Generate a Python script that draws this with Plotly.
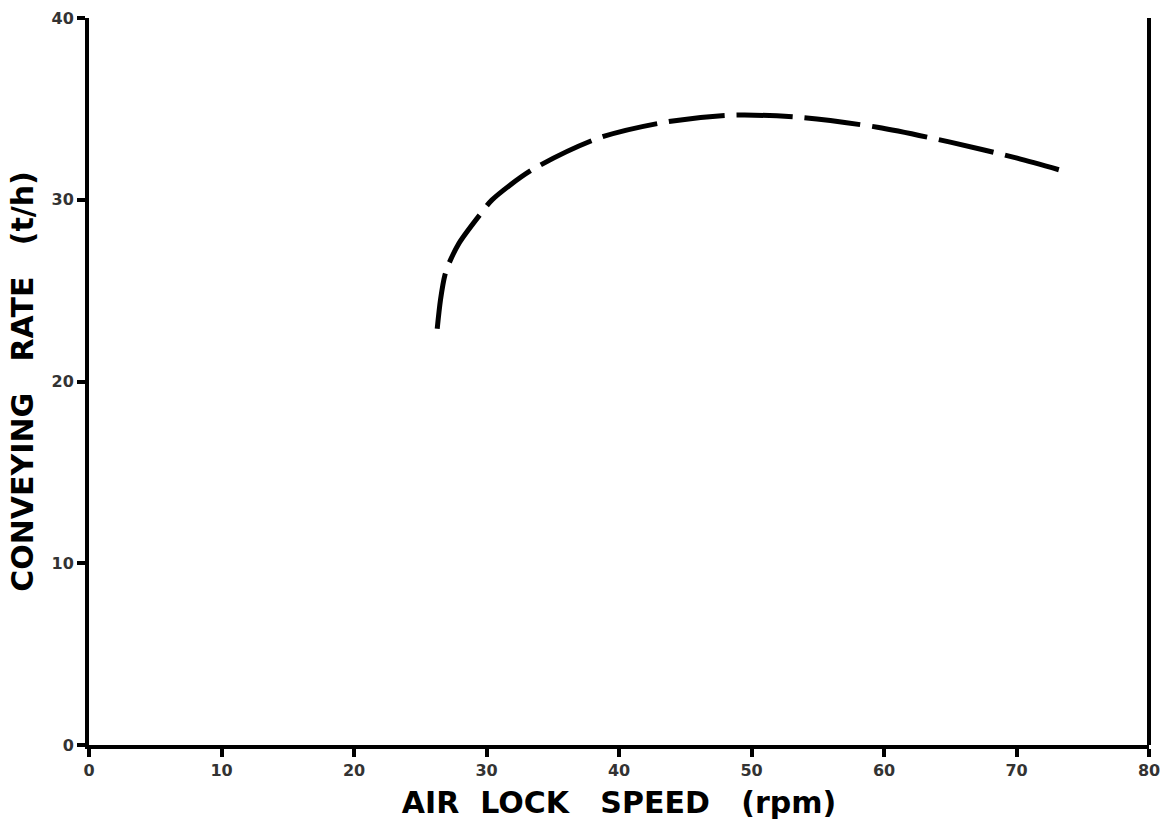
import plotly.graph_objects as go

# Data
speed_rpm = [26.28, 26.53, 26.86, 27.11, 27.92, 29.67, 30.4, 33.4, 38.45, 43.5, 48.5, 53.5, 59.5, 65.0, 70.05, 73.3]
rate_th = [22.9, 24.5, 25.85, 26.4, 27.6, 29.33, 29.98, 31.63, 33.39, 34.27, 34.65, 34.54, 33.99, 33.17, 32.29, 31.63]

x_ticks = [0, 10, 20, 30, 40, 50, 60, 70, 80]
y_ticks = [0, 10, 20, 30, 40]

fig = go.Figure()
fig.add_trace(go.Scatter(
    x=speed_rpm, y=rate_th, mode="lines",
    line=dict(color="black", width=5, dash="56px,12px", shape="spline", smoothing=0.8),
    showlegend=False,
))

nb = "\u00a0"
tickfont = dict(size=16, family="DejaVu Sans", color="#333333", weight="bold")
titlefont = dict(size=30, family="DejaVu Sans", color="black", weight="bold")
fig.update_layout(
    width=1161, height=822,
    margin=dict(l=89, r=12, t=18, b=77),
    paper_bgcolor="white", plot_bgcolor="white",
    font=dict(family="DejaVu Sans", color="#111111"),
    xaxis=dict(
        range=[0, 80], tickvals=x_ticks, ticktext=[str(v) for v in x_ticks],
        showgrid=False, zeroline=False, automargin=False,
        showline=True, linecolor="black", linewidth=4,
        ticks="outside", ticklen=8, tickwidth=4, tickcolor="black",
        tickfont=tickfont, ticklabeloverflow="allow",
        title=dict(text=f"AIR{nb}{nb}LOCK{nb}{nb}{nb}SPEED{nb}{nb}{nb}(rpm)",
                   font=titlefont, standoff=14),
    ),
    yaxis=dict(
        range=[0, 40], tickvals=y_ticks, ticktext=[str(v) for v in y_ticks],
        showgrid=False, zeroline=False, automargin=False,
        showline=True, linecolor="black", linewidth=4,
        ticks="outside", ticklen=8, tickwidth=4, tickcolor="black",
        tickfont=tickfont,
        title=dict(text=f"CONVEYING{nb}{nb}{nb}RATE{nb}{nb}{nb}(t/h)",
                   font=titlefont, standoff=10),
    ),
    shapes=[dict(type="line", xref="paper", yref="paper", x0=1, x1=1, y0=0, y1=1,
                 line=dict(color="black", width=4))],
)

fig.write_html("out.html")
